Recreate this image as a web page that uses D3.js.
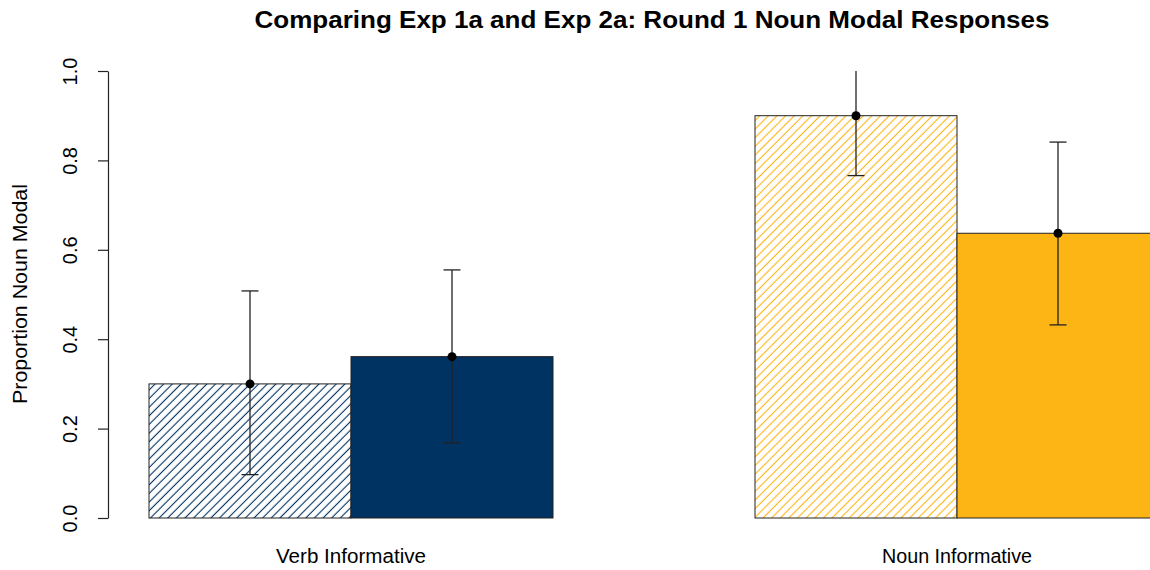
<!DOCTYPE html>
<html>
<head>
<meta charset="utf-8">
<script src="https://cdn.jsdelivr.net/npm/d3@7"></script>
<style>
  html, body { margin: 0; padding: 0; background: #fff; }
  svg { display: block; }
  text { font-family: "Liberation Sans", Arial, sans-serif; fill: #000; }
</style>
</head>
<body>
<svg id="chart" width="1150" height="570"></svg>
<script>
// Conditions and the two experiments being compared
const groups = ["Verb Informative", "Noun Informative"];
const experiments = ["Exp 1a", "Exp 2a"];

// Proportion of noun-modal responses (round 1)
const exp1aMeans = [0.300, 0.900];
const exp2aMeans = [0.361, 0.637];

// Confidence interval bounds
const exp1aLower = [0.097, 0.766];
const exp1aUpper = [0.508, 1.030];
const exp2aLower = [0.168, 0.432];
const exp2aUpper = [0.555, 0.841];

const yTicks = [0, 0.2, 0.4, 0.6, 0.8, 1.0];
const groupColors = ["#003262", "#FDB515"];

const title = "Comparing Exp 1a and Exp 2a: Round 1 Noun Modal Responses";
const yLabel = "Proportion Noun Modal";

const svg = d3.select("#chart");

// Bars sit side by side inside a group, one bar-width gap between groups
const x = d3.scaleLinear().domain([1, 4]).range([149, 755]);
const y = d3.scaleLinear().domain([0, 1]).range([518, 71]);

const bars = [];
groups.forEach((g, gi) => {
  const start = 1 + gi * 3;
  bars.push({ group: gi, exp: 0, x0: start, mean: exp1aMeans[gi], lo: exp1aLower[gi], hi: exp1aUpper[gi], hatched: true });
  bars.push({ group: gi, exp: 1, x0: start + 1, mean: exp2aMeans[gi], lo: exp2aLower[gi], hi: exp2aUpper[gi], hatched: false });
});

// Diagonal hatch patterns
const defs = svg.append("defs");
groupColors.forEach((c, i) => {
  const p = defs.append("pattern")
    .attr("id", "hatch" + i)
    .attr("patternUnits", "userSpaceOnUse")
    .attr("width", 6).attr("height", 6.1)
    .attr("patternTransform", "rotate(-45)");
  p.append("rect").attr("width", 6).attr("height", 6.1).attr("fill", "#fff");
  p.append("line")
    .attr("x1", 0).attr("x2", 6).attr("y1", 3).attr("y2", 3)
    .attr("stroke", c).attr("stroke-width", 1.1);
});

defs.append("clipPath").attr("id", "plotClip")
  .append("rect").attr("x", 0).attr("y", y(1)).attr("width", 1150).attr("height", y(0) - y(1) + 2);

const plot = svg.append("g").attr("clip-path", "url(#plotClip)");

plot.selectAll("rect.bar")
  .data(bars)
  .join("rect")
  .attr("class", "bar")
  .attr("x", d => x(d.x0))
  .attr("width", d => x(d.x0 + 1) - x(d.x0))
  .attr("y", d => y(d.mean))
  .attr("height", d => y(0) - y(d.mean))
  .attr("fill", d => d.hatched ? `url(#hatch${d.group})` : groupColors[d.group])
  .attr("stroke", "#222")
  .attr("stroke-width", 1);

// Error bars
const capHalf = 8.5;
const eb = plot.selectAll("g.err").data(bars).join("g").attr("class", "err");
eb.append("line")
  .attr("x1", d => x(d.x0 + 0.5)).attr("x2", d => x(d.x0 + 0.5))
  .attr("y1", d => y(d.lo)).attr("y2", d => y(d.hi))
  .attr("stroke", "#222").attr("stroke-width", 1.3);
eb.append("line")
  .attr("x1", d => x(d.x0 + 0.5) - capHalf).attr("x2", d => x(d.x0 + 0.5) + capHalf)
  .attr("y1", d => y(d.lo)).attr("y2", d => y(d.lo))
  .attr("stroke", "#222").attr("stroke-width", 1.3);
eb.append("line")
  .attr("x1", d => x(d.x0 + 0.5) - capHalf).attr("x2", d => x(d.x0 + 0.5) + capHalf)
  .attr("y1", d => y(d.hi)).attr("y2", d => y(d.hi))
  .attr("stroke", "#222").attr("stroke-width", 1.3);

svg.selectAll("circle.pt")
  .data(bars)
  .join("circle")
  .attr("class", "pt")
  .attr("cx", d => x(d.x0 + 0.5))
  .attr("cy", d => y(d.mean))
  .attr("r", 4.5)
  .attr("fill", "#000");

// Y axis with vertical tick labels
const yAxis = svg.append("g")
  .attr("transform", "translate(108,0)")
  .call(d3.axisLeft(y).tickValues(yTicks).tickFormat(d3.format(".1f")).tickSize(10).tickSizeOuter(0));
yAxis.select(".domain").attr("stroke", "#222").attr("stroke-width", 1.2);
yAxis.selectAll(".tick line").attr("stroke", "#222").attr("stroke-width", 1.2);
yAxis.selectAll(".tick text")
  .attr("x", 0).attr("dy", null)
  .attr("transform", "translate(-38,0) rotate(-90)")
  .attr("text-anchor", "middle")
  .attr("dominant-baseline", "central")
  .style("font-family", "'Liberation Sans', Arial, sans-serif")
  .style("font-size", "20px")
  .attr("fill", "#222");

// Group labels beneath each pair of bars
svg.selectAll("text.grp")
  .data(groups)
  .join("text")
  .attr("class", "grp")
  .attr("x", (g, i) => x(2 + i * 3))
  .attr("y", 563)
  .attr("text-anchor", "middle")
  .style("font-size", "20px")
  .attr("textLength", 150)
  .attr("lengthAdjust", "spacingAndGlyphs")
  .attr("fill", "#222")
  .text(d => d);

svg.append("text")
  .attr("transform", `translate(27,294) rotate(-90)`)
  .attr("text-anchor", "middle")
  .style("font-size", "20px")
  .attr("textLength", 220)
  .attr("lengthAdjust", "spacingAndGlyphs")
  .attr("fill", "#222")
  .text(yLabel);

svg.append("text")
  .attr("x", 652)
  .attr("y", 28)
  .attr("text-anchor", "middle")
  .style("font-size", "24px")
  .style("font-weight", "bold")
  .attr("textLength", 795)
  .attr("lengthAdjust", "spacingAndGlyphs")
  .text(title);
</script>
</body>
</html>
